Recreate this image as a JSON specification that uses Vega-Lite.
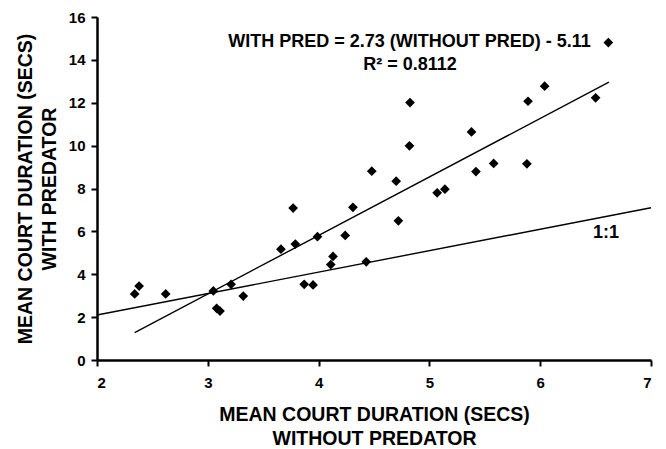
{
  "$schema": "https://vega.github.io/schema/vega-lite/v6.json",
  "width": 554,
  "height": 343,
  "autosize": {"type": "none"},
  "padding": {"left": 97, "top": 17, "right": 15, "bottom": 89},
  "background": "white",
  "config": {
    "view": {"stroke": null},
    "font": "Liberation Sans",
    "axis": {
      "domainColor": "black",
      "domainWidth": 2.5,
      "tickColor": "black",
      "tickWidth": 2,
      "tickSize": 6,
      "grid": false,
      "labelFont": "Liberation Sans",
      "labelFontWeight": "bold",
      "labelFontSize": 15,
      "labelColor": "black",
      "titleFont": "Liberation Sans",
      "titleFontWeight": "bold",
      "titleFontSize": 19.5,
      "titleColor": "black",
      "titleLineHeight": 24
    }
  },
  "datasets": {
    "points": [
      {"without": 2.34, "with": 3.08},
      {"without": 2.38, "with": 3.45},
      {"without": 2.62, "with": 3.08},
      {"without": 3.05, "with": 3.22},
      {"without": 3.08, "with": 2.41},
      {"without": 3.11, "with": 2.28},
      {"without": 3.21, "with": 3.53},
      {"without": 3.32, "with": 2.98},
      {"without": 3.66, "with": 5.17},
      {"without": 3.77, "with": 7.09},
      {"without": 3.79, "with": 5.41},
      {"without": 3.87, "with": 3.53},
      {"without": 3.95, "with": 3.5},
      {"without": 3.99, "with": 5.75},
      {"without": 4.11, "with": 4.45},
      {"without": 4.13, "with": 4.83},
      {"without": 4.24, "with": 5.81},
      {"without": 4.31, "with": 7.12},
      {"without": 4.43, "with": 4.58},
      {"without": 4.48, "with": 8.81},
      {"without": 4.7, "with": 8.34},
      {"without": 4.72, "with": 6.49},
      {"without": 4.82, "with": 9.99},
      {"without": 4.825, "with": 12.01},
      {"without": 5.07, "with": 7.8},
      {"without": 5.14, "with": 7.97},
      {"without": 5.38, "with": 10.64},
      {"without": 5.42, "with": 8.79},
      {"without": 5.58, "with": 9.17},
      {"without": 5.88, "with": 9.15},
      {"without": 5.89, "with": 12.07},
      {"without": 6.04, "with": 12.77},
      {"without": 6.5, "with": 12.23},
      {"without": 6.615, "with": 14.81}
    ],
    "lines": [
      {"series": "fit", "without": 2.34, "with": 1.28},
      {"series": "fit", "without": 6.62, "with": 12.96},
      {"series": "one", "without": 2.0, "with": 2.1},
      {"series": "one", "without": 7.0, "with": 7.1}
    ],
    "labels": [
      {"without": 4.82, "with": 14.83, "text": "WITH PRED = 2.73 (WITHOUT PRED) - 5.11"},
      {"without": 4.825, "with": 13.75, "text": "R² = 0.8112"},
      {"without": 6.594, "with": 5.92, "text": "1:1"}
    ]
  },
  "encoding": {
    "x": {
      "field": "without",
      "type": "quantitative",
      "scale": {"domain": [2, 7], "nice": false, "zero": false},
      "axis": {
        "values": [2, 3, 4, 5, 6, 7],
        "labelPadding": 9,
        "titlePadding": 15,
        "title": ["MEAN COURT DURATION (SECS)", "WITHOUT PREDATOR"]
      }
    },
    "y": {
      "field": "with",
      "type": "quantitative",
      "scale": {"domain": [0, 16], "nice": false},
      "axis": {
        "values": [0, 2, 4, 6, 8, 10, 12, 14, 16],
        "labelPadding": 6,
        "titlePadding": 9,
        "title": ["MEAN COURT DURATION (SECS)", "WITH PREDATOR"]
      }
    }
  },
  "layer": [
    {
      "data": {"name": "lines"},
      "mark": {"type": "line", "color": "black", "strokeWidth": 1.4},
      "encoding": {"detail": {"field": "series"}}
    },
    {
      "data": {"name": "points"},
      "mark": {"type": "point", "shape": "diamond", "filled": true, "color": "black", "size": 95, "opacity": 1}
    },
    {
      "data": {"name": "labels"},
      "mark": {"type": "text", "font": "Liberation Sans", "fontWeight": "bold", "fontSize": 18, "color": "black", "align": "center", "baseline": "middle"},
      "encoding": {"text": {"field": "text"}}
    }
  ]
}
